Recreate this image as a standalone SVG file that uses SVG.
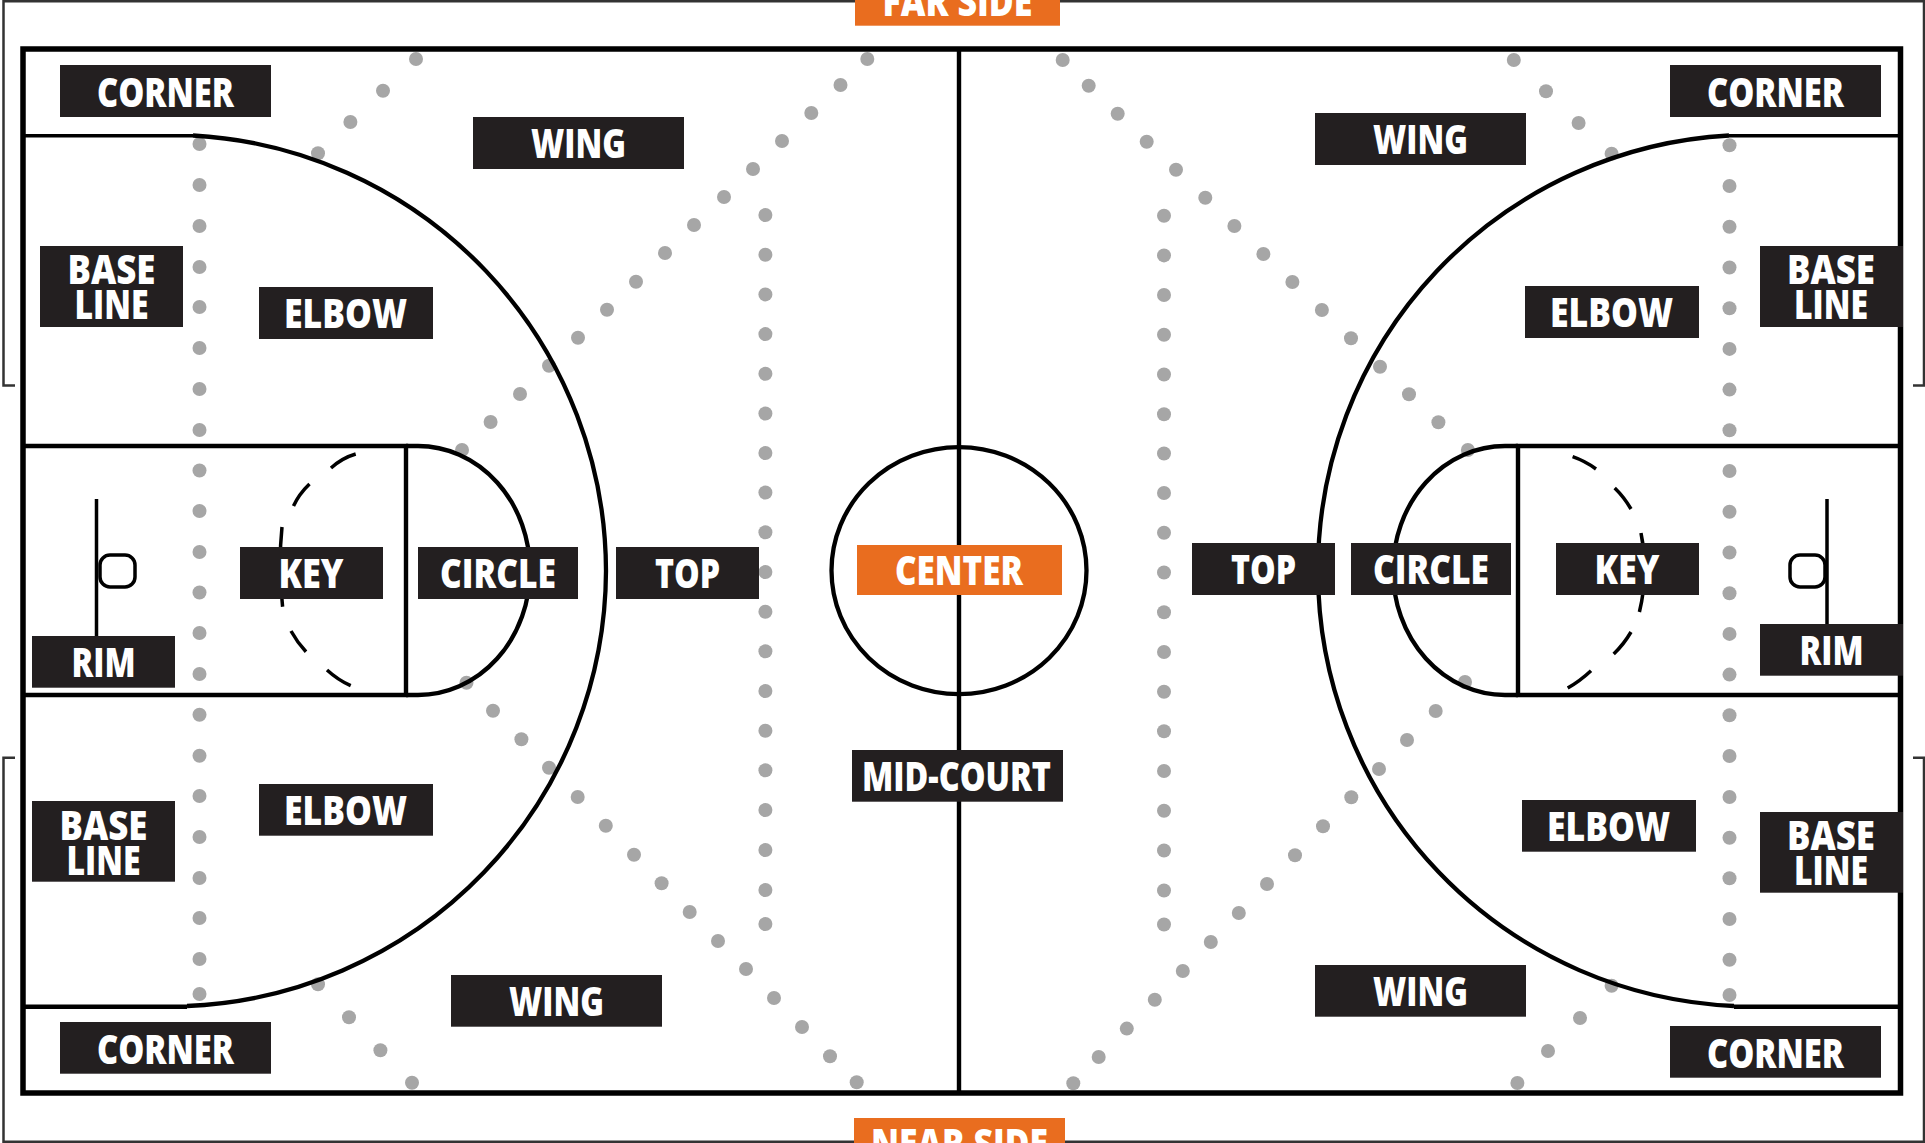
<svg xmlns="http://www.w3.org/2000/svg" width="1925" height="1143" viewBox="0 0 1925 1143">
<style>
.bg{fill:#fff}
.frame{fill:none;stroke:#333;stroke-width:2.5}
.line{fill:none;stroke:#000;stroke-width:4.400}
.thin{fill:none;stroke:#000;stroke-width:3.500}
.arc{fill:none;stroke:#000;stroke-width:4.300;stroke-linejoin:round}
.dots circle{fill:#a6a6a6;r:7px}
.box{fill:#231f20}
.hot{fill:#e96d1f}
text{font-family:"Open Sans","Noto Sans",sans-serif;font-weight:800;font-size:40px;fill:#fff;text-anchor:middle}
</style>
<rect class="bg" width="1925" height="1143"/>
<g id="frame">
<path class="frame" d="M15 385.500H3.500V1.200H1924V385.500H1913"/>
<path class="frame" d="M15 757.700H3.500V1141.700H1924V757.700H1913"/>
</g>
<g id="dots" class="dots">
<circle cx="199.5" cy="144"/><circle cx="199.5" cy="185"/><circle cx="199.5" cy="226"/><circle cx="199.5" cy="267"/><circle cx="199.5" cy="307"/><circle cx="199.5" cy="348"/><circle cx="199.5" cy="389"/><circle cx="199.5" cy="430"/><circle cx="199.5" cy="470.5"/><circle cx="199.5" cy="511"/><circle cx="199.5" cy="552"/><circle cx="199.5" cy="592.5"/><circle cx="199.5" cy="633"/><circle cx="199.5" cy="674"/><circle cx="199.5" cy="714.7"/><circle cx="199.5" cy="755.7"/><circle cx="199.5" cy="796"/><circle cx="199.5" cy="837"/><circle cx="199.5" cy="878"/><circle cx="199.5" cy="918"/><circle cx="199.5" cy="959"/><circle cx="199.5" cy="994"/>
<circle cx="1729.5" cy="145.3"/><circle cx="1729.5" cy="186"/><circle cx="1729.5" cy="226.7"/><circle cx="1729.5" cy="267.5"/><circle cx="1729.5" cy="308.2"/><circle cx="1729.5" cy="348.9"/><circle cx="1729.5" cy="389.6"/><circle cx="1729.5" cy="430.3"/><circle cx="1729.5" cy="471"/><circle cx="1729.5" cy="511.8"/><circle cx="1729.5" cy="552.5"/><circle cx="1729.5" cy="593.2"/><circle cx="1729.5" cy="633.9"/><circle cx="1729.5" cy="674.6"/><circle cx="1729.5" cy="715.3"/><circle cx="1729.5" cy="756"/><circle cx="1729.5" cy="797"/><circle cx="1729.5" cy="837.7"/><circle cx="1729.5" cy="878.3"/><circle cx="1729.5" cy="919"/><circle cx="1729.5" cy="959.7"/><circle cx="1729.5" cy="995"/>
<circle cx="765.4" cy="215"/><circle cx="765.4" cy="254.7"/><circle cx="765.4" cy="294.4"/><circle cx="765.4" cy="334.1"/><circle cx="765.4" cy="373.8"/><circle cx="765.4" cy="413.5"/><circle cx="765.4" cy="453"/><circle cx="765.4" cy="492.5"/><circle cx="765.4" cy="532.3"/><circle cx="765.4" cy="572"/><circle cx="765.4" cy="611.7"/><circle cx="765.4" cy="651.3"/><circle cx="765.4" cy="691"/><circle cx="765.4" cy="730.7"/><circle cx="765.4" cy="770.3"/><circle cx="765.4" cy="810"/><circle cx="765.4" cy="850"/><circle cx="765.4" cy="890"/><circle cx="765.4" cy="924"/>
<circle cx="1164" cy="215.7"/><circle cx="1164" cy="255.4"/><circle cx="1164" cy="295"/><circle cx="1164" cy="334.8"/><circle cx="1164" cy="374.5"/><circle cx="1164" cy="414.2"/><circle cx="1164" cy="453.5"/><circle cx="1164" cy="493"/><circle cx="1164" cy="532.8"/><circle cx="1164" cy="572.5"/><circle cx="1164" cy="612.2"/><circle cx="1164" cy="652"/><circle cx="1164" cy="691.7"/><circle cx="1164" cy="731.3"/><circle cx="1164" cy="771"/><circle cx="1164" cy="810.7"/><circle cx="1164" cy="850.5"/><circle cx="1164" cy="890.5"/><circle cx="1164" cy="924.5"/>
<circle cx="416" cy="59"/><circle cx="383" cy="90.7"/><circle cx="350.4" cy="122"/><circle cx="318" cy="153.3"/>
<circle cx="867.3" cy="59"/><circle cx="840.5" cy="85"/><circle cx="811.3" cy="113"/><circle cx="782" cy="141"/><circle cx="753" cy="169"/><circle cx="724" cy="197"/><circle cx="694" cy="225"/><circle cx="665" cy="253"/><circle cx="636" cy="281.7"/><circle cx="607" cy="309.7"/><circle cx="578" cy="337.7"/><circle cx="549" cy="365.7"/><circle cx="520" cy="394"/><circle cx="490.6" cy="422"/><circle cx="462" cy="450"/>
<circle cx="466.5" cy="682.7"/><circle cx="493" cy="710.7"/><circle cx="521.4" cy="739.3"/><circle cx="549" cy="767.7"/><circle cx="577.7" cy="797"/><circle cx="605.8" cy="825.7"/><circle cx="634" cy="854.7"/><circle cx="661.6" cy="883.3"/><circle cx="689.7" cy="912"/><circle cx="718" cy="941"/><circle cx="746" cy="969"/><circle cx="774" cy="998"/><circle cx="802" cy="1027"/><circle cx="830" cy="1056.3"/><circle cx="856.7" cy="1082.3"/>
<circle cx="318" cy="984.3"/><circle cx="349" cy="1017.3"/><circle cx="380.4" cy="1050.3"/><circle cx="412" cy="1082.7"/>
<circle cx="1513.8" cy="60"/><circle cx="1546" cy="91.3"/><circle cx="1578.6" cy="123"/><circle cx="1611.6" cy="153.7"/>
<circle cx="1062.7" cy="60"/><circle cx="1088.7" cy="85.7"/><circle cx="1117.7" cy="113.7"/><circle cx="1146.7" cy="141.7"/><circle cx="1176" cy="169.7"/><circle cx="1205.3" cy="197.7"/><circle cx="1234.4" cy="226"/><circle cx="1263.4" cy="254"/><circle cx="1292.4" cy="282"/><circle cx="1321.9" cy="310"/><circle cx="1351" cy="338.3"/><circle cx="1380" cy="366.7"/><circle cx="1409" cy="394.3"/><circle cx="1438.4" cy="422.3"/><circle cx="1467.9" cy="450"/>
<circle cx="1465" cy="682"/><circle cx="1435.7" cy="711"/><circle cx="1407" cy="740"/><circle cx="1379" cy="769"/><circle cx="1351.3" cy="797.3"/><circle cx="1323" cy="826.3"/><circle cx="1295" cy="855.3"/><circle cx="1267" cy="884"/><circle cx="1238.8" cy="913"/><circle cx="1210.8" cy="942"/><circle cx="1182.8" cy="971"/><circle cx="1154.8" cy="999.8"/><circle cx="1126.8" cy="1028.6"/><circle cx="1098.7" cy="1057"/><circle cx="1073.3" cy="1083.3"/>
<circle cx="1611.6" cy="985.7"/><circle cx="1580" cy="1018"/><circle cx="1548" cy="1051"/><circle cx="1517.4" cy="1083"/>
</g>
<g id="court">
<rect x="23" y="49" width="1877.5" height="1044" fill="none" stroke="#000" stroke-width="5.500"/>
<path class="line" d="M959 49V1093" stroke-width="4.700"/>
<ellipse class="arc" cx="959" cy="570.600" rx="127.500" ry="123.500"/>
<path class="thin" d="M23 135.700H193M1729 135.700H1900"/>
<path class="line" d="M23 1006.700H187M1734 1006.700H1900"/>
<path class="line" d="M23 446H406V695H23M1900 446H1518V695H1900"/>
<path class="arc" d="M193 135.500A437 437 0 0 1 606 571A437 437 0 0 1 187 1006"/>
<path class="arc" d="M1729 135.500A435 435 0 0 0 1318 571A435 435 0 0 0 1734 1006"/>
<path class="arc" d="M406 446H418A112 124.500 0 0 1 418 695H406"/>
<path class="arc" d="M1518 446H1505A112 124.500 0 0 0 1505 695H1518"/>
<path class="thin" d="M331 468Q342 458 355.700 454M309.500 484Q299 494 293.500 506M282 527Q278 566 282.600 606.700M291 631Q297 642 306 651.700M327 670Q338 680 350.700 685.700"/>
<path class="thin" d="M1572.600 456.700Q1585 461 1596 469M1614.700 488Q1624 497 1631 509M1641 533Q1649 572 1639.400 612M1631 632Q1624 644 1613.700 654M1591 670.700Q1580 681 1567.700 688"/>
<path class="thin" d="M96.500 499V636M1827 499V624"/>
<rect class="thin" x="100" y="555" width="35" height="32" rx="10"/>
<rect class="thin" x="1790" y="555" width="35" height="32" rx="10"/>
</g>
<g id="far-side"><rect class="hot" x="855" y="-30" width="205" height="55.700"/><text x="957.500" y="15.500" textLength="150" lengthAdjust="spacingAndGlyphs">FAR SIDE</text></g>
<g id="near-side"><rect class="hot" x="854" y="1118" width="211" height="30"/><text x="959.500" y="1158" textLength="177" lengthAdjust="spacingAndGlyphs">NEAR SIDE</text></g>
<g id="corner-tl"><rect class="box" x="60" y="65" width="211" height="52"/><text x="165.500" y="106.500" textLength="137" lengthAdjust="spacingAndGlyphs">CORNER</text></g>
<g id="wing-tl"><rect class="box" x="473" y="117" width="211" height="52"/><text x="578.500" y="157.700" textLength="95" lengthAdjust="spacingAndGlyphs">WING</text></g>
<g id="base-tl"><rect class="box" x="40" y="246" width="143" height="81"/><text x="111.500" y="284.300" textLength="88" lengthAdjust="spacingAndGlyphs">BASE</text><text x="111.500" y="319.300" textLength="74" lengthAdjust="spacingAndGlyphs">LINE</text></g>
<g id="elbow-tl"><rect class="box" x="259" y="287" width="174" height="52"/><text x="345.500" y="327.700" textLength="123" lengthAdjust="spacingAndGlyphs">ELBOW</text></g>
<g id="rim-l"><rect class="box" x="32" y="636" width="143" height="51.700"/><text x="103.500" y="676.700" textLength="64" lengthAdjust="spacingAndGlyphs">RIM</text></g>
<g id="key-l"><rect class="box" x="240" y="547" width="143" height="52"/><text x="311" y="587.800" textLength="65" lengthAdjust="spacingAndGlyphs">KEY</text></g>
<g id="circle-l"><rect class="box" x="418" y="547" width="160" height="52"/><text x="498" y="587.800" textLength="116" lengthAdjust="spacingAndGlyphs">CIRCLE</text></g>
<g id="top-l"><rect class="box" x="616" y="547" width="143" height="52"/><text x="687.500" y="587.800" textLength="65" lengthAdjust="spacingAndGlyphs">TOP</text></g>
<g id="base-bl"><rect class="box" x="32" y="801" width="143" height="80.700"/><text x="103.500" y="840" textLength="88" lengthAdjust="spacingAndGlyphs">BASE</text><text x="103.500" y="875" textLength="74" lengthAdjust="spacingAndGlyphs">LINE</text></g>
<g id="elbow-bl"><rect class="box" x="259" y="784" width="174" height="51.700"/><text x="345.500" y="824.700" textLength="123" lengthAdjust="spacingAndGlyphs">ELBOW</text></g>
<g id="wing-bl"><rect class="box" x="451" y="975" width="211" height="51.700"/><text x="556.500" y="1015.700" textLength="95" lengthAdjust="spacingAndGlyphs">WING</text></g>
<g id="corner-bl"><rect class="box" x="60" y="1022" width="211" height="51.700"/><text x="165.500" y="1063.500" textLength="137" lengthAdjust="spacingAndGlyphs">CORNER</text></g>
<g id="center"><rect class="hot" x="857" y="545" width="205" height="50"/><text x="959" y="584.800" textLength="128" lengthAdjust="spacingAndGlyphs">CENTER</text></g>
<g id="mid-court"><rect class="box" x="852" y="750" width="211" height="51.700"/><text x="956.500" y="790.700" textLength="189" lengthAdjust="spacingAndGlyphs">MID-COURT</text></g>
<g id="corner-tr"><rect class="box" x="1670" y="65" width="211" height="52"/><text x="1775.500" y="106.500" textLength="137" lengthAdjust="spacingAndGlyphs">CORNER</text></g>
<g id="wing-tr"><rect class="box" x="1315" y="113" width="211" height="52"/><text x="1420.500" y="154" textLength="95" lengthAdjust="spacingAndGlyphs">WING</text></g>
<g id="base-tr"><rect class="box" x="1760" y="246" width="143" height="81"/><text x="1831" y="283.800" textLength="88" lengthAdjust="spacingAndGlyphs">BASE</text><text x="1831" y="319" textLength="74" lengthAdjust="spacingAndGlyphs">LINE</text></g>
<g id="elbow-tr"><rect class="box" x="1525" y="286" width="174" height="52"/><text x="1611.500" y="327" textLength="123" lengthAdjust="spacingAndGlyphs">ELBOW</text></g>
<g id="top-r"><rect class="box" x="1192" y="543" width="143" height="52"/><text x="1263.500" y="584" textLength="65" lengthAdjust="spacingAndGlyphs">TOP</text></g>
<g id="circle-r"><rect class="box" x="1351" y="543" width="160" height="52"/><text x="1431" y="584" textLength="116" lengthAdjust="spacingAndGlyphs">CIRCLE</text></g>
<g id="key-r"><rect class="box" x="1556" y="543" width="143" height="52"/><text x="1627" y="584" textLength="65" lengthAdjust="spacingAndGlyphs">KEY</text></g>
<g id="rim-r"><rect class="box" x="1760" y="624" width="143" height="51.700"/><text x="1831.500" y="664.700" textLength="64" lengthAdjust="spacingAndGlyphs">RIM</text></g>
<g id="elbow-br"><rect class="box" x="1522" y="800" width="174" height="51.700"/><text x="1608.500" y="841" textLength="123" lengthAdjust="spacingAndGlyphs">ELBOW</text></g>
<g id="base-br"><rect class="box" x="1760" y="812" width="143" height="80.700"/><text x="1831" y="849.800" textLength="88" lengthAdjust="spacingAndGlyphs">BASE</text><text x="1831" y="885" textLength="74" lengthAdjust="spacingAndGlyphs">LINE</text></g>
<g id="wing-br"><rect class="box" x="1315" y="965" width="211" height="51.700"/><text x="1420.500" y="1006" textLength="95" lengthAdjust="spacingAndGlyphs">WING</text></g>
<g id="corner-br"><rect class="box" x="1670" y="1026" width="211" height="51.700"/><text x="1775.500" y="1067.500" textLength="137" lengthAdjust="spacingAndGlyphs">CORNER</text></g>
</svg>
